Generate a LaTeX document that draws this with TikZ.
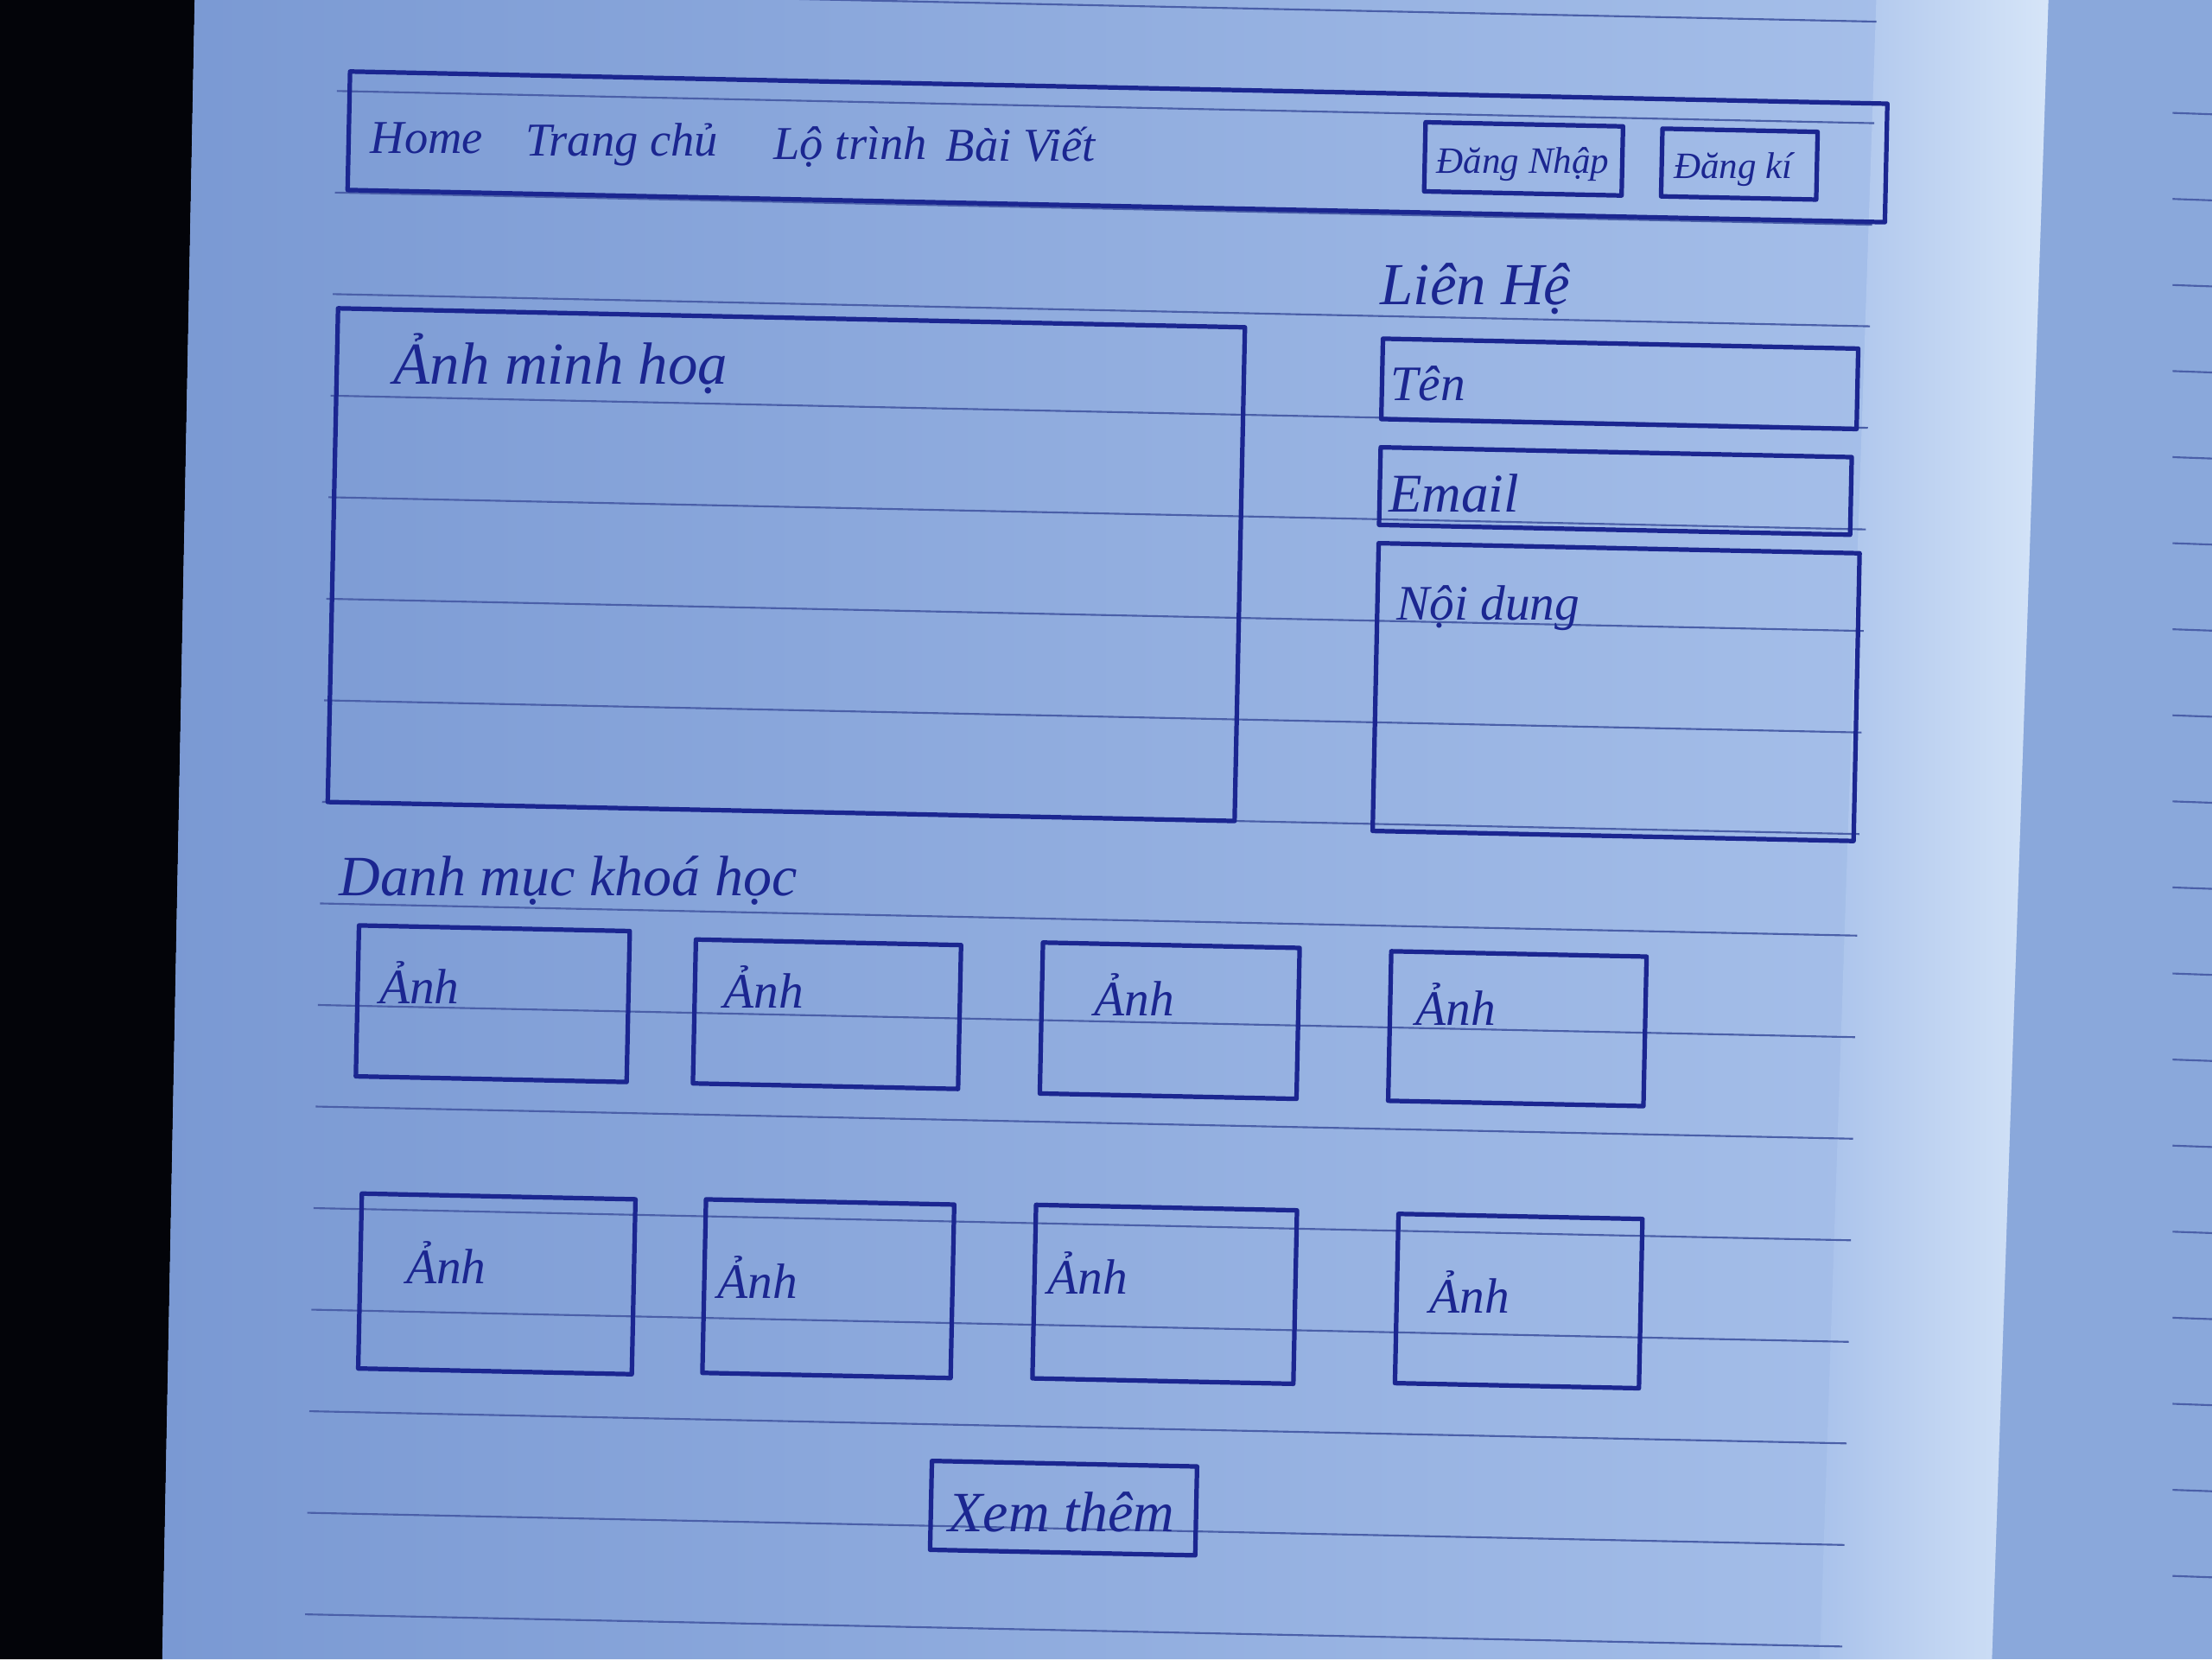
\documentclass[tikz,border=0pt]{standalone}
\usepackage{fontspec}
\setmainfont{Liberation Serif}
\definecolor{ink}{HTML}{1B2690}
\definecolor{ruleline}{HTML}{4A5FA8}
\definecolor{paperL}{HTML}{7A99D3}
\definecolor{paperR}{HTML}{A9C2EB}
\definecolor{edgeglow}{HTML}{D6E5F8}
\definecolor{nextpage}{HTML}{8AA8DB}
\definecolor{desk}{HTML}{030409}
\tikzset{
  pen/.style={draw=ink, line width=0.32mm, line join=round, line cap=round},
  ruled/.style={draw=ruleline, line width=0.13mm},
  hand/.style={text=ink, inner sep=0pt, anchor=base west, font=\itshape\fontsize{#1}{#1}\selectfont},
  hand/.default=12
}
\begin{document}
\begin{tikzpicture}[x=0.1mm, y=-0.1mm]
\useasboundingbox (0,0) rectangle (1568,1176);
% desk, facing page and the sheet
\fill[nextpage] (0,0) rectangle (1568,1176);
\fill[desk] (0,0) -- (138,0) -- (115,1176) -- (0,1176) -- cycle;
\shade[left color=paperL, right color=paperR] (138,0) -- (1452,0) -- (1412,1176) -- (115,1176) -- cycle;
\shade[left color=paperR, right color=edgeglow] (1330,0) -- (1452,0) -- (1412,1176) -- (1290,1176) -- cycle;
\foreach \y in {80,141,202,263,324,385,446,507,568,629,690,751,812,873,934,995,1056,1117}
  \draw[ruled] (1540,\y) -- (1568,\y+1);

\begin{scope}[rotate around={-1.2:(784,588)}]
% ruled lines of the sheet
\foreach \k in {0,...,16}
  \draw[ruled] (228,{4+72*\k}) -- (1318,{4+72*\k});

% navigation bar
\draw[pen] (237,62) rectangle (1327,146);
\node[hand=9.5] (home) at (252,120) {Home};
\node[hand=9.5] (trangchu) at (362,119) {Trang chủ};
\node[hand=9.5] (lotrinh) at (538,118) {Lộ trình};
\node[hand=9.5] (baiviet) at (660,117) {Bài Viết};
\draw[pen] (1000,82) rectangle (1140,131);
\node[hand=7.5] (dangnhap) at (1008,118) {Đăng Nhập};
\draw[pen] (1168,83) rectangle (1278,131);
\node[hand=7.5] (dangki) at (1176,118) {Đăng kí};

% illustration area
\draw[pen] (232,230) rectangle (875,580);
\node[hand=12] (minhhoa) at (272,283) {Ảnh minh hoạ};

% contact form
\node[hand=12] (lienhe) at (970,212) {Liên Hệ};
\draw[pen] (973,236) rectangle (1310,293);
\node[hand=10] (ten) at (979,280) {Tên};
\draw[pen] (973,313) rectangle (1307,368);
\node[hand=11] (email) at (979,359) {Email};
\draw[pen] (973,381) rectangle (1314,585);
\node[hand=10] (noidung) at (986,435) {Nội dung};

% course list
\node[hand=11.5] (danhmuc) at (241,646) {Danh mục khoá học};
\draw[pen] (256,667) rectangle (448,774);
\node[hand=10] (a1) at (271,722) {Ảnh};
\draw[pen] (495,672) rectangle (683,774);
\node[hand=10] (a2) at (515,720) {Ảnh};
\draw[pen] (741,669) rectangle (923,776);
\node[hand=10] (a3) at (778,720) {Ảnh};
\draw[pen] (988,670) rectangle (1169,776);
\node[hand=10] (a4) at (1006,722) {Ảnh};

\draw[pen] (262,857) rectangle (456,981);
\node[hand=10] (a5) at (294,920) {Ảnh};
\draw[pen] (506,856) rectangle (682,979);
\node[hand=10] (a6) at (515,926) {Ảnh};
\draw[pen] (740,855) rectangle (925,978);
\node[hand=10] (a7) at (749,918) {Ảnh};
\draw[pen] (997,856) rectangle (1170,976);
\node[hand=10] (a8) at (1020,926) {Ảnh};

% more button
\draw[pen] (670,1038) rectangle (858,1101);
\node[hand=11.5] (xemthem) at (682,1088) {Xem thêm};
\end{scope}
\end{tikzpicture}
\end{document}
